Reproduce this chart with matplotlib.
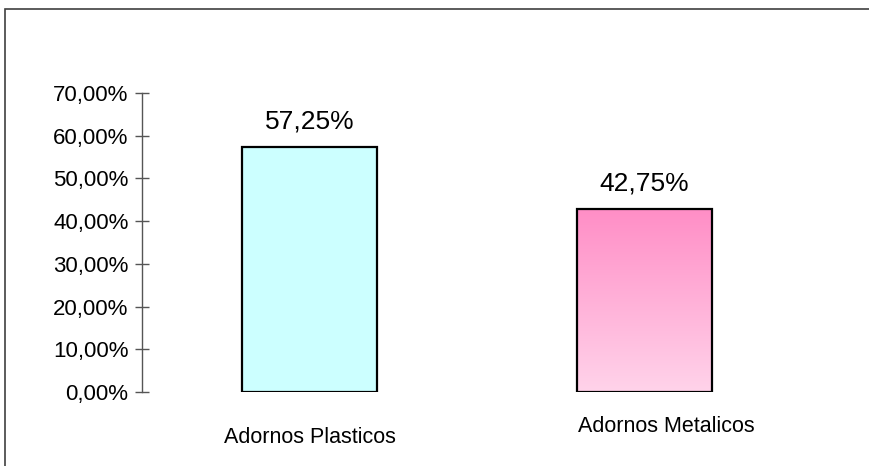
import matplotlib.pyplot as plt
import numpy as np
from matplotlib.colors import LinearSegmentedColormap
from matplotlib.patches import Rectangle

plt.rcParams['font.family'] = ['Liberation Sans', 'DejaVu Sans']

categories = ['Adornos Plasticos', 'Adornos Metalicos']
shares = [57.25, 42.75]
value_labels = ['57,25%', '42,75%']
yticks = [0, 10, 20, 30, 40, 50, 60, 70]
ytick_labels = ['0,00%', '10,00%', '20,00%', '30,00%', '40,00%', '50,00%', '60,00%', '70,00%']

fig = plt.figure(figsize=(8.7, 4.66), dpi=100)

# outer chart frame (only top and left edges fall inside the image)
fig.patches.append(Rectangle((5 / 870, -0.1), 1.2, (466 - 9) / 466 + 0.1,
                             transform=fig.transFigure, fill=False,
                             edgecolor='#404040', linewidth=1.2))

ax = fig.add_axes([142 / 870, 74 / 466, 670 / 870, 299 / 466])
x = np.arange(len(categories))
bars = ax.bar(x, shares, width=0.403, color=['#CCFFFF', 'none'],
              edgecolor='black', linewidth=1.6, zorder=3)

# pink vertical gradient for the second bar
pink = LinearSegmentedColormap.from_list('pink', ['#FFD3EA', '#FF8EC6'])
b = bars[1]
grad = ax.imshow(np.linspace(0, 1, 256).reshape(-1, 1), cmap=pink, aspect='auto',
                 origin='lower', extent=(b.get_x(), b.get_x() + b.get_width(), 0, b.get_height()),
                 zorder=2)
grad.set_clip_path(b)

ax.set_xlim(-0.5, 1.5)
ax.set_ylim(0, 70)
ax.set_yticks(yticks)
ax.set_yticklabels(ytick_labels, fontsize=16)
ax.tick_params(axis='y', direction='inout', length=9.5, width=1, color='#555555', pad=5)
ax.set_xticks([])
for side in ['top', 'right', 'bottom']:
    ax.spines[side].set_visible(False)
ax.spines['left'].set_color('#555555')
ax.spines['left'].set_linewidth(1)

for xi, v, lab in zip(x, shares, value_labels):
    ax.annotate(lab, (xi, v), xytext=(0, 19), textcoords='offset points',
                ha='center', va='center', fontsize=19)

# category labels sit at slightly different heights
cat_offsets = [(0, -33), (16, -25)]
for xi, name, off in zip(x, categories, cat_offsets):
    ax.annotate(name, (xi, 0), xytext=off, textcoords='offset points',
                ha='center', va='center', fontsize=15.5, annotation_clip=False)

fig.savefig('out.png', dpi=100)
